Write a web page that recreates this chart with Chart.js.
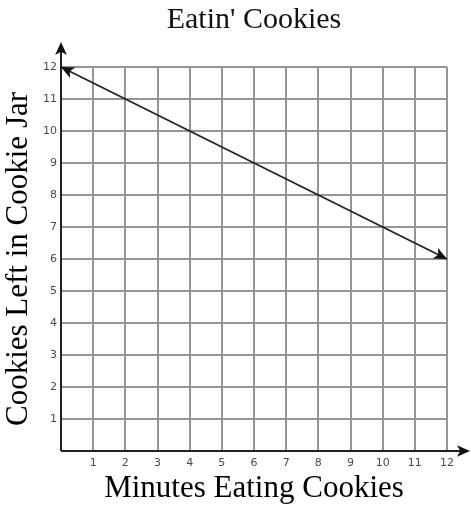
<!DOCTYPE html>
<html>
<head>
<meta charset="UTF-8">
<title>Eatin' Cookies</title>
<script src="https://cdn.jsdelivr.net/npm/chart.js"></script>
<style>
  html, body { margin: 0; padding: 0; background: #fff; }
  #wrap { width: 471px; height: 510px; }
</style>
</head>
<body>
<div id="wrap"><canvas id="cookieChart" width="471" height="510"></canvas></div>
<script>
// values
const minutes = [0, 2, 4, 6, 8, 10, 12];
const cookiesLeft = [12, 11, 10, 9, 8, 7, 6];
const xTicks = [1, 2, 3, 4, 5, 6, 7, 8, 9, 10, 11, 12];
const yTicks = [1, 2, 3, 4, 5, 6, 7, 8, 9, 10, 11, 12];

const serif = "'Liberation Serif', 'DejaVu Serif', serif";

function arrowHead(ctx, x, y, angle, size) {
  ctx.save();
  ctx.translate(x, y);
  ctx.rotate(angle);
  ctx.beginPath();
  ctx.moveTo(0, 0);
  ctx.lineTo(-size, -size * 0.45);
  ctx.lineTo(-size * 0.75, 0);
  ctx.lineTo(-size, size * 0.45);
  ctx.closePath();
  ctx.fill();
  ctx.restore();
}

// axes with arrows + arrowheads on the line
const arrowsPlugin = {
  id: 'arrows',
  afterDatasetsDraw(chart) {
    const ctx = chart.ctx;
    const xs = chart.scales.x, ys = chart.scales.y;
    const x0 = xs.getPixelForValue(0), y0 = ys.getPixelForValue(0);
    ctx.save();
    ctx.strokeStyle = '#222';
    ctx.fillStyle = '#111';
    ctx.lineWidth = 2;
    ctx.beginPath();
    ctx.moveTo(x0, y0);
    ctx.lineTo(chart.width - 6, y0);
    ctx.moveTo(x0, y0);
    ctx.lineTo(x0, 47);
    ctx.stroke();
    arrowHead(ctx, chart.width - 1, y0, 0, 13);
    arrowHead(ctx, x0, 42, -Math.PI / 2, 13);

    const pts = chart.getDatasetMeta(0).data;
    const a = pts[0], b = pts[pts.length - 1];
    const ang = Math.atan2(b.y - a.y, b.x - a.x);
    arrowHead(ctx, b.x, b.y, ang, 13);
    arrowHead(ctx, a.x, a.y, ang + Math.PI, 13);
    ctx.restore();
  }
};

new Chart(document.getElementById('cookieChart'), {
  type: 'scatter',
  data: {
    datasets: [{
      data: minutes.map((m, i) => ({ x: m, y: cookiesLeft[i] })),
      showLine: true,
      borderColor: '#222',
      borderWidth: 1.8,
      pointRadius: 0,
      clip: false
    }]
  },
  options: {
    responsive: false,
    animation: false,
    layout: { padding: { right: 24 } },
    plugins: {
      legend: { display: false },
      tooltip: { enabled: false },
      title: {
        display: true,
        fullSize: false,
        text: "Eatin' Cookies",
        color: '#111',
        font: { family: serif, size: 30, weight: 'normal' },
        padding: { top: 2, bottom: 29 }
      }
    },
    scales: {
      x: {
        type: 'linear',
        min: 0,
        max: 12,
        afterFit(scale) { scale.height = 59; },
        afterBuildTicks(scale) { scale.ticks = [0].concat(xTicks).map(v => ({ value: v })); },
        grid: { color: '#959595', lineWidth: 2, drawTicks: false },
        border: { display: false },
        ticks: {
          padding: 6,
          color: '#4a4a4a',
          font: { family: "'DejaVu Sans', sans-serif", size: 11 },
          callback: v => (v === 0 ? '' : v)
        },
        title: {
          display: true,
          text: 'Minutes Eating Cookies',
          color: '#000',
          font: { family: serif, size: 31 },
          padding: { top: 0, bottom: 3 }
        }
      },
      y: {
        type: 'linear',
        min: 0,
        max: 12,
        afterFit(scale) { scale.width = 61; },
        afterBuildTicks(scale) { scale.ticks = [0].concat(yTicks).map(v => ({ value: v })); },
        grid: { color: '#959595', lineWidth: 2, drawTicks: false },
        border: { display: false },
        ticks: {
          padding: 4,
          color: '#4a4a4a',
          font: { family: "'DejaVu Sans', sans-serif", size: 11 },
          callback: v => (v === 0 ? '' : v)
        },
        title: {
          display: true,
          text: 'Cookies Left in Cookie Jar',
          color: '#000',
          font: { family: serif, size: 31 },
          padding: { top: 0, bottom: 0 }
        }
      }
    }
  },
  plugins: [arrowsPlugin]
});
</script>
</body>
</html>
